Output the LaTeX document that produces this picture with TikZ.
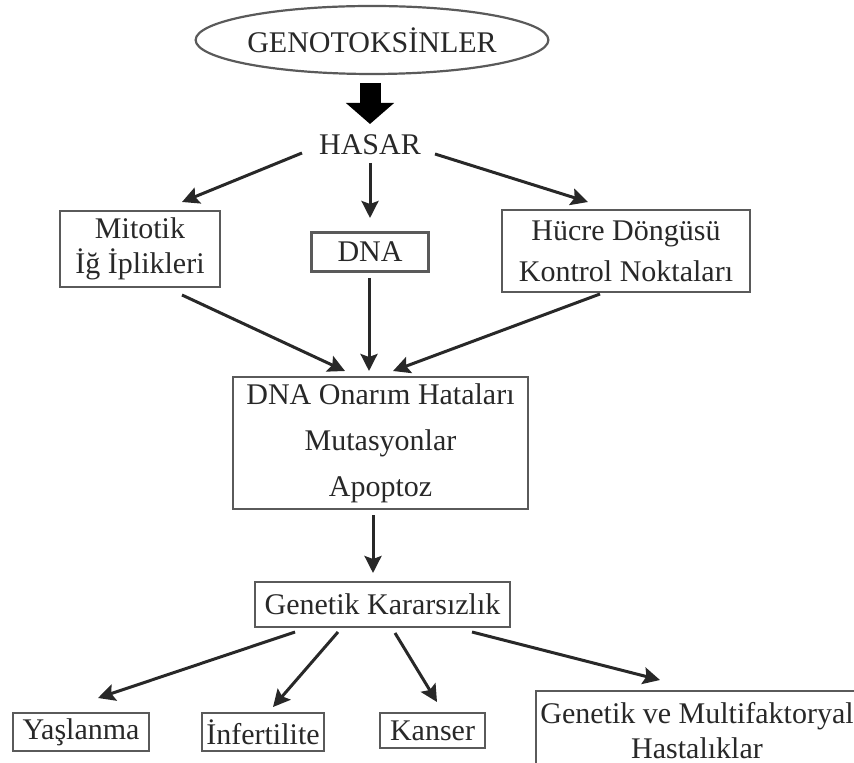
\documentclass[tikz,border=0pt]{standalone}
\usepackage{fontspec}
\setmainfont{Liberation Serif}
\usepackage{xcolor}
\usepackage{tikz}
\usetikzlibrary{shapes.geometric, arrows.meta, positioning}
\definecolor{inkgray}{RGB}{40,40,40}
\definecolor{framegray}{RGB}{90,90,90}

\begin{document}
\begin{tikzpicture}[
  x=0.5pt, y=-0.5pt,
  every node/.style={text=inkgray, font=\fontsize{15}{17.5}\selectfont},
  kutu/.style={draw=framegray, line width=1.2pt, inner sep=0pt,
               text centered, align=center},
  oval/.style={ellipse, draw=framegray, line width=1.1pt, inner sep=0pt,
               minimum width=160pt, minimum height=34pt},
  ok/.style={-{Stealth[length=8.5pt, width=8.5pt, inset=1.5pt]}, line width=1.5pt,
             color=inkgray},
  kalinok/.style={-{Triangle[length=10.5pt, width=23.5pt]}, line width=10.5pt,
                  color=black},
]
\useasboundingbox (0,0) rectangle (854,763);

%% Top: source
\node[oval] (geno) at (372,40) {GENOTOKS\.{I}NLER};
\node (hasar) at (370,145) {HASAR};

%% Row 1: targets of damage
\node[kutu, minimum width=80pt, minimum height=38pt] (mitotik) at (140,249)
  {Mitotik\\İğ İplikleri};
\node[kutu, minimum width=58.5pt, minimum height=19.5pt] (dna) at (370,252) {DNA};
\node[kutu, minimum width=124pt, minimum height=41pt] (hucre) at (626,251)
  {Hücre Döngüsü\\[3pt]Kontrol Noktaları};

%% Row 2: consequences
\node[kutu, minimum width=147.5pt, minimum height=66pt] (onarim) at (380.5,443)
  {DNA Onarım Hataları\\[5.5pt]Mutasyonlar\\[5.5pt]Apoptoz};

%% Row 3
\node[kutu, minimum width=127.5pt, minimum height=22.5pt] (genkar) at (382.5,604.5)
  {Genetik Kararsızlık};

%% Row 4: outcomes
\node[kutu, minimum width=68pt, minimum height=19pt] (yas) at (81,732) {Yaşlanma};
\node[kutu, minimum width=61pt, minimum height=19pt] (inf) at (263,732) {İnfertilite};
\node[kutu, minimum width=52.5pt, minimum height=17.5pt] (kan) at (432.5,730.5) {Kanser};
\node[kutu, minimum width=161pt, minimum height=40pt] (hast) at (697,731)
  {Genetik ve Multifaktoryal\\Hastalıklar};

%% Arrows
\draw[kalinok] ([shift={(-2,43)}]geno.center) -- ([shift={(0,-21)}]hasar.center);

\draw[ok] ([shift={(-68,8)}]hasar.center) -- ([shift={(42,-47)}]mitotik.center);
\draw[ok] ([shift={(0,18)}]hasar.center)  -- ([shift={(0,-34)}]dna.center);
\draw[ok] ([shift={(65,9)}]hasar.center)  -- ([shift={(-38,-49)}]hucre.center);

\draw[ok] ([shift={(42,46)}]mitotik.center) -- ([shift={(-35.5,-72)}]onarim.center);
\draw[ok] ([shift={(-1,26)}]dna.center)     -- ([shift={(-11.5,-72)}]onarim.center);
\draw[ok] ([shift={(-26,43)}]hucre.center)  -- ([shift={(12.5,-72)}]onarim.center);

\draw[ok] ([shift={(-7.5,72)}]onarim.center) -- ([shift={(-9.5,-31.5)}]genkar.center);

\draw[ok] ([shift={(-87.5,27.5)}]genkar.center) -- ([shift={(17,-34)}]yas.center);
\draw[ok] ([shift={(-44.5,27.5)}]genkar.center) -- ([shift={(10,-25)}]inf.center);
\draw[ok] ([shift={(12.5,28.5)}]genkar.center)  -- ([shift={(4.5,-28.5)}]kan.center);
\draw[ok] ([shift={(89.5,27.5)}]genkar.center)  -- ([shift={(-37,-51)}]hast.center);

\end{tikzpicture}
\end{document}
